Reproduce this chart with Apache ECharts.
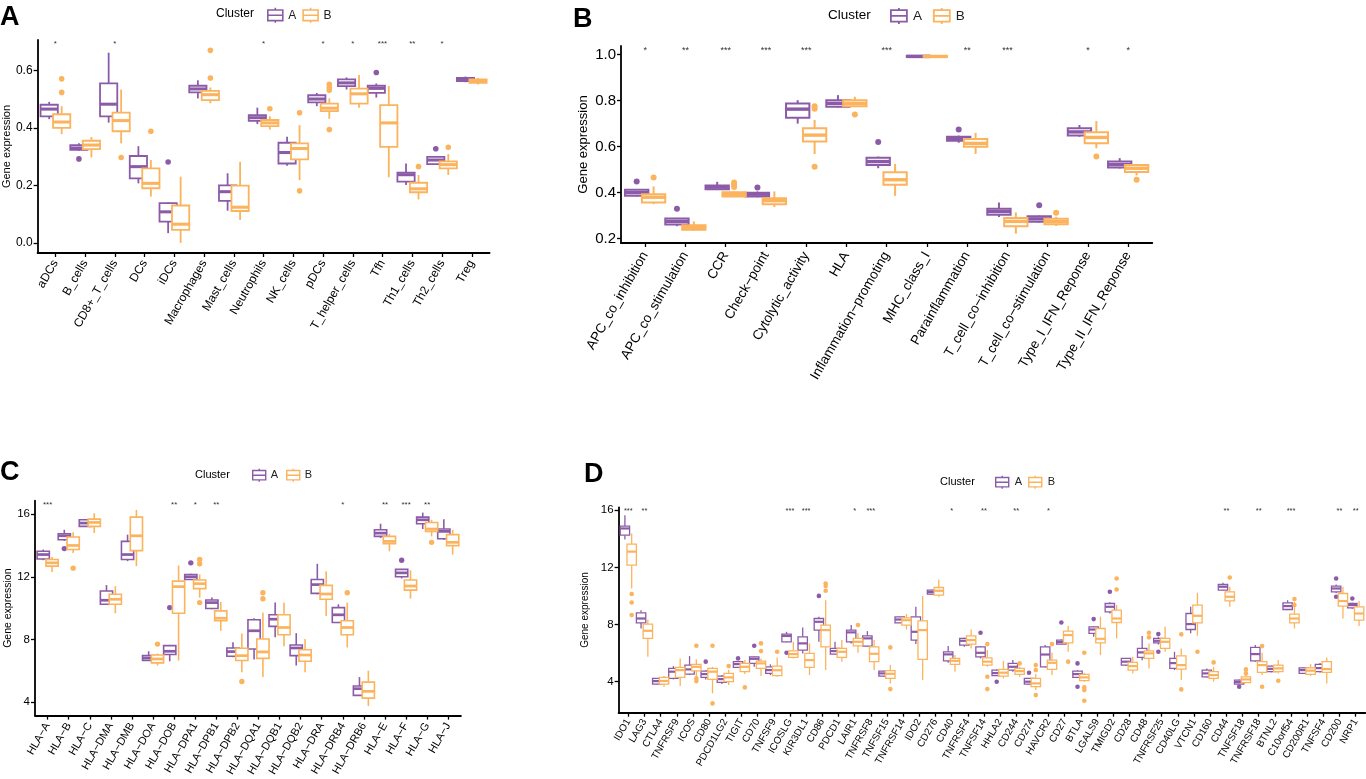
<!DOCTYPE html>
<html>
<head>
<meta charset="utf-8">
<script src="https://cdn.jsdelivr.net/npm/echarts@6/dist/echarts.min.js"></script>
<style>
  html, body { margin: 0; background: #fff; }
  #chart { width: 1366px; height: 779px; }
</style>
</head>
<body>
<div id="chart"></div>
<script>
// ---- panel A: immune cell types ----
const cellTypes = ['aDCs', 'B_cells', 'CD8+_T_cells', 'DCs', 'iDCs', 'Macrophages', 'Mast_cells', 'Neutrophils',
  'NK_cells', 'pDCs', 'T_helper_cells', 'Tfh', 'Th1_cells', 'Th2_cells', 'Treg'];
const cellSig = ['*', '', '*', '', '', '', '', '*', '', '*', '*', '***', '**', '*', ''];
// [min, q1, median, q3, max]
const cellBoxA = [[0.43, 0.44, 0.465, 0.48, 0.49], [0.32, 0.323, 0.33, 0.34, 0.346], [0.418, 0.44, 0.482, 0.554, 0.661],
  [0.207, 0.224, 0.265, 0.302, 0.336], [0.034, 0.074, 0.108, 0.138, 0.141], [0.502, 0.523, 0.535, 0.546, 0.565],
  [0.112, 0.146, 0.178, 0.2, 0.242], [0.413, 0.424, 0.435, 0.444, 0.47], [0.268, 0.276, 0.314, 0.348, 0.369],
  [0.475, 0.488, 0.5, 0.513, 0.521], [0.533, 0.545, 0.556, 0.568, 0.575], [0.505, 0.521, 0.537, 0.546, 0.554],
  [0.201, 0.213, 0.237, 0.244, 0.276], [0.272, 0.274, 0.288, 0.299, 0.302], [0.558, 0.562, 0.568, 0.573, 0.578]];
const cellBoxB = [[0.378, 0.4, 0.42, 0.447, 0.475], [0.297, 0.326, 0.34, 0.355, 0.368], [0.346, 0.388, 0.425, 0.453, 0.533],
  [0.161, 0.19, 0.207, 0.259, 0.288], [0.0, 0.045, 0.065, 0.13, 0.23], [0.485, 0.496, 0.515, 0.528, 0.54],
  [0.08, 0.111, 0.124, 0.199, 0.282], [0.394, 0.406, 0.417, 0.427, 0.44], [0.218, 0.29, 0.328, 0.346, 0.409],
  [0.431, 0.458, 0.468, 0.484, 0.502], [0.47, 0.484, 0.518, 0.536, 0.583], [0.228, 0.334, 0.417, 0.479, 0.545],
  [0.151, 0.176, 0.188, 0.209, 0.236], [0.236, 0.259, 0.272, 0.283, 0.309], [0.55, 0.556, 0.563, 0.568, 0.573]];
const cellOutA = [[], [0.292], [], [], [0.281], [], [], [], [], [], [], [0.592], [], [0.327], []];
const cellOutB = [[0.57, 0.523], [], [0.297], [0.388], [], [0.669, 0.573], [], [0.466], [0.452, 0.181],
  [0.551, 0.54, 0.53, 0.394], [], [], [0.265], [0.332], []];

// ---- panel B: immune functions ----
const funcNames = ['APC_co_inhibition', 'APC_co_stimulation', 'CCR', 'Check\u2212point', 'Cytolytic_activity', 'HLA',
  'Inflammation\u2212promoting', 'MHC_class_I', 'Parainflammation', 'T_cell_co\u2212inhibition', 'T_cell_co\u2212stimulation',
  'Type_I_IFN_Reponse', 'Type_II_IFN_Reponse'];
const funcSig = ['*', '**', '***', '***', '***', '', '***', '', '**', '***', '', '*', '*'];
const funcBoxA = [[0.383, 0.386, 0.4, 0.412, 0.415], [0.254, 0.261, 0.275, 0.287, 0.29], [0.413, 0.415, 0.424, 0.431, 0.447],
  [0.38, 0.383, 0.393, 0.4, 0.405], [0.7, 0.726, 0.763, 0.788, 0.802], [0.77, 0.773, 0.788, 0.802, 0.824],
  [0.506, 0.52, 0.535, 0.552, 0.557], [0.988, 0.99, 0.992, 0.995, 0.996], [0.617, 0.626, 0.636, 0.643, 0.648],
  [0.294, 0.304, 0.318, 0.33, 0.357], [0.27, 0.273, 0.286, 0.297, 0.3], [0.643, 0.648, 0.664, 0.68, 0.694],
  [0.505, 0.509, 0.522, 0.535, 0.55]];
const funcBoxB = [[0.35, 0.357, 0.38, 0.393, 0.427], [0.235, 0.239, 0.248, 0.258, 0.275], [0.38, 0.383, 0.393, 0.402, 0.405],
  [0.337, 0.35, 0.365, 0.376, 0.405], [0.568, 0.622, 0.65, 0.68, 0.716], [0.773, 0.776, 0.788, 0.802, 0.817],
  [0.386, 0.434, 0.456, 0.489, 0.525], [0.988, 0.99, 0.992, 0.994, 0.996], [0.568, 0.6, 0.614, 0.633, 0.66],
  [0.222, 0.254, 0.275, 0.29, 0.314], [0.255, 0.262, 0.274, 0.286, 0.295], [0.593, 0.615, 0.64, 0.662, 0.711],
  [0.475, 0.49, 0.506, 0.52, 0.525]];
const funcOutA = [[0.448], [0.33], [], [0.422], [], [], [0.62], [], [0.675], [], [0.345], [], []];
const funcOutB = [[0.466], [], [0.444, 0.435, 0.425], [], [0.776, 0.765, 0.513], [0.74], [], [], [], [], [0.312], [0.557], [0.456]];

// ---- panel C: HLA genes ----
const hlaGenes = ['HLA\u2212A', 'HLA\u2212B', 'HLA\u2212C', 'HLA\u2212DMA', 'HLA\u2212DMB', 'HLA\u2212DOA', 'HLA\u2212DOB',
  'HLA\u2212DPA1', 'HLA\u2212DPB1', 'HLA\u2212DPB2', 'HLA\u2212DQA1', 'HLA\u2212DQB1', 'HLA\u2212DQB2', 'HLA\u2212DRA',
  'HLA\u2212DRB4', 'HLA\u2212DRB6', 'HLA\u2212E', 'HLA\u2212F', 'HLA\u2212G', 'HLA\u2212J'];
const hlaSig = ['***', '', '', '', '', '', '**', '*', '**', '', '', '', '', '', '*', '', '**', '***', '**', ''];
const hlaBoxA = [[13.06, 13.14, 13.42, 13.63, 13.74], [14.3, 14.37, 14.62, 14.75, 15.0], [15.2, 15.22, 15.43, 15.64, 15.65],
  [10.2, 10.24, 10.5, 11.09, 11.47], [13.0, 13.1, 13.42, 14.26, 14.69], [6.62, 6.65, 6.8, 6.96, 7.24],
  [6.6, 7.03, 7.24, 7.6, 7.65], [11.8, 11.83, 12.0, 12.15, 12.2], [9.93, 9.97, 10.35, 10.52, 10.67],
  [6.86, 6.92, 7.22, 7.45, 7.81], [6.71, 7.39, 8.55, 9.25, 9.35], [8.13, 8.83, 9.29, 9.57, 10.35],
  [6.33, 6.96, 7.45, 7.64, 8.4], [10.88, 10.94, 11.5, 11.83, 12.83], [9.04, 9.08, 9.57, 10.03, 10.24],
  [4.4, 4.42, 4.85, 5.02, 5.59], [14.48, 14.58, 14.79, 15.0, 15.39], [11.89, 12.0, 12.25, 12.47, 12.5],
  [15.05, 15.39, 15.64, 15.81, 16.1], [14.37, 14.43, 14.9, 15.05, 15.68]];
const hlaBoxB = [[12.3, 12.68, 12.89, 13.1, 13.27], [13.52, 13.74, 14.0, 14.54, 14.84], [14.8, 15.22, 15.47, 15.68, 16.06],
  [9.67, 10.24, 10.56, 10.88, 11.4], [12.68, 13.67, 14.62, 15.81, 16.27], [6.33, 6.5, 6.75, 7.0, 7.1],
  [6.65, 9.67, 11.37, 11.72, 12.72], [10.67, 11.24, 11.56, 11.79, 12.15], [8.55, 9.19, 9.35, 9.82, 10.39],
  [5.9, 6.65, 6.96, 7.43, 8.38], [5.59, 6.79, 7.2, 8.02, 9.71], [7.56, 8.3, 8.76, 9.57, 10.35],
  [5.9, 6.6, 7.0, 7.34, 8.02], [9.5, 10.56, 10.9, 11.45, 12.36], [7.49, 8.3, 8.76, 9.19, 10.35],
  [3.75, 4.25, 4.68, 5.27, 6.0], [13.63, 14.12, 14.26, 14.58, 14.75], [10.6, 11.15, 11.41, 11.79, 12.42],
  [14.58, 14.9, 15.05, 15.47, 15.64], [13.42, 13.99, 14.2, 14.69, 15.0]];
const hlaOutA = [[], [13.8], [], [], [], [], [10.03], [12.89], [], [], [], [], [], [], [], [], [], [13.06], [], []];
const hlaOutB = [[], [12.55], [], [], [], [7.7], [], [13.1, 12.83, 10.35], [], [5.31], [10.98, 10.6], [], [], [], [10.98],
  [], [], [], [14.2], []];

// ---- panel D: immune checkpoint genes ----
const checkGenes = ['IDO1', 'LAG3', 'CTLA4', 'TNFRSF9', 'ICOS', 'CD80', 'PDCD1LG2', 'TIGIT', 'CD70', 'TNFSF9', 'ICOSLG',
  'KIR3DL1', 'CD86', 'PDCD1', 'LAIR1', 'TNFRSF8', 'TNFSF15', 'TNFRSF14', 'IDO2', 'CD276', 'CD40', 'TNFRSF4', 'TNFSF14',
  'HHLA2', 'CD244', 'CD274', 'HAVCR2', 'CD27', 'BTLA', 'LGALS9', 'TMIGD2', 'CD28', 'CD48', 'TNFRSF25', 'CD40LG', 'VTCN1',
  'CD160', 'CD44', 'TNFSF18', 'TNFRSF18', 'BTNL2', 'C10orf54', 'CD200R1', 'TNFSF4', 'CD200', 'NRP1'];
const checkSig = ['***', '**', '', '', '', '', '', '', '', '', '***', '***', '', '', '*', '***', '', '', '', '', '*', '',
  '**', '', '**', '', '*', '', '', '', '', '', '', '', '', '', '', '**', '', '**', '', '***', '', '', '**', '**'];
const checkBoxA = [[13.95, 14.25, 14.72, 14.88, 15.65], [7.72, 8.12, 8.42, 8.82, 9.0], [3.8, 3.83, 4.04, 4.23, 4.25],
  [4.16, 4.23, 4.7, 4.93, 5.09], [4.46, 4.53, 4.86, 5.16, 5.79], [4.16, 4.3, 4.53, 4.74, 4.8],
  [3.83, 3.95, 4.18, 4.39, 4.46], [4.95, 5.0, 5.23, 5.4, 5.45], [5.04, 5.28, 5.6, 5.74, 5.8],
  [4.46, 4.58, 4.81, 5.04, 5.21], [6.75, 6.79, 7.2, 7.33, 7.49], [5.98, 6.21, 6.68, 7.14, 7.79],
  [6.79, 7.61, 8.19, 8.42, 8.54], [5.9, 5.93, 6.14, 6.33, 6.79], [6.68, 6.79, 7.45, 7.61, 7.96],
  [6.44, 6.49, 7.03, 7.21, 7.54], [4.35, 4.39, 4.58, 4.74, 4.76], [8.1, 8.12, 8.35, 8.54, 8.56],
  [6.63, 6.91, 7.49, 8.54, 9.24], [10.1, 10.13, 10.27, 10.41, 10.43], [5.32, 5.46, 5.91, 6.09, 6.49],
  [6.44, 6.56, 6.86, 7.03, 7.08], [5.63, 5.74, 6.02, 6.44, 6.5], [4.4, 4.42, 4.6, 4.81, 4.85],
  [4.7, 4.81, 5.04, 5.28, 5.51], [3.8, 3.83, 4.0, 4.23, 4.25], [5.0, 5.04, 5.9, 6.44, 6.56],
  [6.6, 6.63, 6.77, 6.91, 6.95], [4.25, 4.3, 4.53, 4.74, 4.8], [7.14, 7.38, 7.65, 7.84, 7.9],
  [8.77, 8.89, 9.24, 9.47, 9.55], [5.1, 5.16, 5.4, 5.63, 5.65], [5.5, 5.7, 6.05, 6.33, 7.19],
  [6.6, 6.72, 6.86, 7.03, 7.1], [4.81, 4.93, 5.3, 5.63, 6.09], [7.38, 7.65, 8.03, 8.77, 9.24],
  [4.3, 4.34, 4.58, 4.81, 4.93], [10.38, 10.41, 10.64, 10.8, 10.92], [3.8, 3.83, 3.97, 4.11, 4.15],
  [5.4, 5.46, 5.93, 6.4, 6.56], [4.65, 4.7, 4.9, 5.09, 5.12], [9.0, 9.05, 9.29, 9.52, 9.7],
  [4.55, 4.58, 4.81, 4.97, 5.0], [4.65, 4.7, 4.95, 5.21, 5.3], [10.2, 10.29, 10.52, 10.69, 10.8],
  [9.1, 9.17, 9.36, 9.47, 9.52]];
const checkBoxB = [[10.52, 12.15, 13.1, 13.62, 14.37], [5.74, 7.03, 7.56, 8.03, 8.35], [3.65, 3.83, 4.05, 4.3, 4.39],
  [3.69, 4.3, 4.81, 5.0, 5.63], [4.34, 4.76, 5.04, 5.21, 5.56], [3.18, 4.16, 4.7, 4.93, 5.04],
  [3.76, 4.0, 4.3, 4.58, 4.81], [4.53, 4.7, 5.04, 5.28, 5.51], [4.39, 4.93, 5.28, 5.44, 5.63],
  [4.34, 4.42, 4.8, 5.09, 5.7], [5.63, 5.7, 5.93, 6.16, 6.79], [4.46, 5.0, 5.51, 5.98, 6.68],
  [4.81, 6.44, 7.61, 7.96, 9.7], [5.4, 5.7, 6.09, 6.33, 6.91], [6.02, 6.51, 6.79, 7.03, 7.38],
  [4.81, 5.4, 5.95, 6.44, 6.91], [3.88, 4.23, 4.55, 4.77, 5.16], [7.65, 7.96, 8.3, 8.47, 8.73],
  [4.11, 5.56, 7.61, 8.26, 9.99], [9.94, 10.06, 10.36, 10.59, 11.15], [4.7, 5.21, 5.46, 5.63, 5.86],
  [6.33, 6.63, 6.91, 7.21, 7.65], [5.04, 5.16, 5.4, 5.67, 6.21], [4.23, 4.39, 4.63, 4.86, 5.46],
  [4.34, 4.51, 4.74, 4.93, 5.04], [3.41, 3.65, 3.88, 4.23, 4.53], [4.46, 4.86, 5.32, 5.51, 6.02],
  [6.09, 6.72, 7.26, 7.54, 7.89], [4.0, 4.07, 4.3, 4.51, 4.63], [5.86, 6.72, 7.0, 7.72, 8.54],
  [7.03, 8.14, 8.42, 9.0, 9.36], [4.58, 4.81, 5.09, 5.35, 5.74], [4.93, 5.63, 5.98, 6.16, 6.68],
  [6.09, 6.33, 6.79, 7.03, 7.84], [4.11, 4.88, 5.16, 5.81, 6.33], [7.21, 8.12, 8.61, 9.36, 10.22],
  [4.0, 4.23, 4.46, 4.7, 5.04], [9.24, 9.66, 9.94, 10.29, 10.64], [3.9, 3.93, 4.16, 4.34, 4.7],
  [4.46, 4.65, 5.16, 5.4, 6.02], [4.58, 4.7, 4.93, 5.16, 5.51], [7.72, 8.12, 8.42, 8.73, 9.59],
  [4.4, 4.51, 4.77, 4.97, 5.23], [3.88, 4.65, 4.88, 5.4, 5.7], [8.42, 9.29, 9.64, 10.17, 10.64],
  [7.89, 8.31, 8.77, 9.24, 9.64]];
const checkOutA = [[], [], [], [], [], [5.4], [], [5.63], [6.51], [], [6.02], [], [10.0], [], [], [], [], [], [], [], [],
  [], [7.42], [4.0], [], [4.63], [], [8.14], [5.28, 3.65], [8.38], [10.29], [], [], [7.33, 6.09], [], [], [], [], [3.65],
  [], [], [], [], [], [11.22, 9.94], [9.82]];
const checkOutB = [[10.13, 9.54, 8.66], [], [], [], [6.51, 4.23, 4.04], [6.51, 2.48], [5.09], [3.6], [6.68, 6.14], [6.09],
  [], [], [10.87, 10.69, 10.36], [], [7.96], [], [6.4, 3.48], [], [], [], [], [], [6.63, 4.34, 3.48], [], [5.28],
  [5.16, 4.81, 3.06], [6.63], [5.4], [6.02, 3.6, 3.41, 2.67], [], [11.22, 10.45], [], [7.42, 7.1], [], [7.31, 3.46],
  [6.09], [5.35], [11.29], [4.86, 4.58], [6.49, 3.65], [4.07], [9.78, 9.36], [], [], [], []];

const PURPLE = '#8C5BA8';
const ORANGE = '#FCB35D';
const FONT = '"Liberation Sans", Arial, sans-serif';
const BOX_W = 0.58;   // box width as share of a category band
const SHIFT = 0.21;   // dodge of each cluster from the category centre

const panels = [
  { names: cellTypes, sig: cellSig, boxA: cellBoxA, boxB: cellBoxB, outA: cellOutA, outB: cellOutB,
    grid: { left: 37, top: 40, width: 452.6, height: 213 }, yMin: -0.035, yMax: 0.705, yTicks: [0, 0.2, 0.4, 0.6], digits: 1,
    tickFont: 12, labFont: 12, titleFont: 11, nameGap: 25, starFont: 8, lw: 1.8, r: 2.8, labMargin: 8 },
  { names: funcNames, sig: funcSig, boxA: funcBoxA, boxB: funcBoxB, outA: funcOutA, outB: funcOutB,
    grid: { left: 621, top: 46, width: 531.3, height: 197 }, yMin: 0.181, yMax: 1.0375, yTicks: [0.2, 0.4, 0.6, 0.8, 1.0], digits: 1,
    tickFont: 15, labFont: 13.5, titleFont: 13, nameGap: 31, starFont: 9, lw: 2, r: 3, labMargin: 10 },
  { names: hlaGenes, sig: hlaSig, boxA: hlaBoxA, boxB: hlaBoxB, outA: hlaOutA, outB: hlaOutB,
    grid: { left: 35, top: 500.7, width: 425.9, height: 216.3 }, yMin: 3.13, yMax: 16.86, yTicks: [4, 8, 12, 16], digits: 0,
    tickFont: 11.5, labFont: 11, titleFont: 10.5, nameGap: 21, starFont: 8, lw: 1.6, r: 2.7, labMargin: 8 },
  { names: checkGenes, sig: checkSig, boxA: checkBoxA, boxB: checkBoxB, outA: checkOutA, outB: checkOutB,
    grid: { left: 618.6, top: 507.3, width: 746.8, height: 205.4 }, yMin: 1.83, yMax: 16.2, yTicks: [4, 8, 12, 16], digits: 0,
    tickFont: 11.5, labFont: 10, titleFont: 10, nameGap: 20, starFont: 7.5, lw: 1.3, r: 2.3, labMargin: 7 }
];

function boxRenderer(shift, color, lw) {
  return function (params, api) {
    const i = api.value(0);
    const band = api.size([1, 0])[0];
    const cx = api.coord([i, 0])[0] + shift * band;
    const half = band * BOX_W / 2;
    const y = [1, 2, 3, 4, 5].map(d => api.coord([i, api.value(d)])[1]);
    const seg = (x1, y1, x2, y2, w) => ({ type: 'line', shape: { x1, y1, x2, y2 }, style: { stroke: color, lineWidth: w } });
    return {
      type: 'group',
      children: [
        seg(cx, y[4], cx, y[3], lw),
        seg(cx, y[1], cx, y[0], lw),
        { type: 'rect', shape: { x: cx - half, y: y[3], width: 2 * half, height: y[1] - y[3] },
          style: { fill: '#fff', stroke: color, lineWidth: lw } },
        seg(cx - half, y[2], cx + half, y[2], lw * 1.7)
      ]
    };
  };
}

function dotRenderer(shift, color, r) {
  return function (params, api) {
    const i = api.value(0);
    const band = api.size([1, 0])[0];
    const p = api.coord([i, api.value(1)]);
    return { type: 'circle', shape: { cx: p[0] + shift * band, cy: p[1], r }, style: { fill: color } };
  };
}

const grids = [], xAxes = [], yAxes = [], series = [];
panels.forEach((p, k) => {
  const n = p.names.length;
  const idx = p.names.map((_, i) => i + 1);
  grids.push(p.grid);
  xAxes.push({
    gridIndex: k, type: 'value', min: 0.4, max: n + 0.6, position: 'bottom',
    splitLine: { show: false },
    axisLine: { show: true, onZero: false, lineStyle: { color: '#000', width: 1.8 } },
    axisTick: { show: true, customValues: idx, length: 4, lineStyle: { color: '#000', width: 1.3 } },
    axisLabel: { show: true, customValues: idx, rotate: 60, margin: p.labMargin, fontSize: p.labFont, color: '#000',
      formatter: v => p.names[Math.round(v) - 1] || '' }
  });
  xAxes.push({
    gridIndex: k, type: 'value', min: 0.4, max: n + 0.6, position: 'top',
    splitLine: { show: false }, axisLine: { show: false }, axisTick: { show: false },
    axisLabel: { show: true, inside: true, customValues: idx, margin: 0, fontSize: p.starFont, color: '#333',
      formatter: v => p.sig[Math.round(v) - 1] || '' }
  });
  yAxes.push({
    gridIndex: k, type: 'value', min: p.yMin, max: p.yMax,
    splitLine: { show: false },
    axisLine: { show: true, onZero: false, lineStyle: { color: '#000', width: 1.8 } },
    axisTick: { show: true, customValues: p.yTicks, length: 4, lineStyle: { color: '#000', width: 1.3 } },
    axisLabel: { customValues: p.yTicks, margin: 5, fontSize: p.tickFont, color: '#000',
      formatter: v => Number(v).toFixed(p.digits) },
    name: 'Gene expression', nameLocation: 'middle', nameGap: p.nameGap,
    nameTextStyle: { fontSize: p.titleFont, color: '#000' }
  });
  const clusters = [
    { name: 'A', box: p.boxA, out: p.outA, color: PURPLE, shift: -SHIFT },
    { name: 'B', box: p.boxB, out: p.outB, color: ORANGE, shift: SHIFT }
  ];
  clusters.forEach(c => {
    series.push({
      type: 'custom', name: c.name, xAxisIndex: 2 * k, yAxisIndex: k,
      itemStyle: { color: c.color, borderColor: c.color },
      renderItem: boxRenderer(c.shift, c.color, p.lw),
      encode: { x: 0, y: [1, 2, 3, 4, 5] },
      data: c.box.map((b, i) => [i + 1].concat(b))
    });
    series.push({
      type: 'custom', name: c.name + ' outlier', xAxisIndex: 2 * k, yAxisIndex: k,
      renderItem: dotRenderer(c.shift, c.color, p.r),
      encode: { x: 0, y: 1 },
      data: c.out.flatMap((vals, i) => vals.map(v => [i + 1, v]))
    });
  });
});

const BOX_ICON = 'path://M8,0 L8,2 M1,2 L15,2 L15,12 L1,12 Z M1,7 L15,7 M8,12 L8,14';
function legendAt(left, top, w, h, size, gap, lw) {
  return {
    left, top, padding: 0, itemWidth: w, itemHeight: h, itemGap: gap, icon: BOX_ICON, selectedMode: false,
    textStyle: { fontSize: size, color: '#222', padding: [0, 0, 0, 0] },
    data: [
      { name: 'A', itemStyle: { color: '#fff', borderColor: PURPLE, borderWidth: lw } },
      { name: 'B', itemStyle: { color: '#fff', borderColor: ORANGE, borderWidth: lw } }
    ]
  };
}
function label(text, left, top, size, bold) {
  return { text, left, top, padding: 0,
    textStyle: { fontSize: size, fontWeight: bold ? 'bold' : 'normal', color: '#000' } };
}

const chart = echarts.init(document.getElementById('chart'));
chart.setOption({
  animation: false,
  backgroundColor: '#fff',
  textStyle: { fontFamily: FONT },
  title: [
    label('A', 0, 4, 27, true), label('B', 573, 6, 27, true),
    label('C', 0, 459, 27, true), label('D', 584, 461, 27, true),
    label('Cluster', 216, 8, 12), label('Cluster', 828, 8, 13.5),
    label('Cluster', 195, 469, 11), label('Cluster', 940, 476, 11)
  ],
  legend: [
    legendAt(267, 7, 16, 15, 12, 6, 1.6),
    legendAt(890, 7, 18, 16, 13.5, 11, 1.8),
    legendAt(252, 468, 13, 13, 11, 8, 1.4),
    legendAt(995, 475, 15, 13, 11, 6, 1.4)
  ],
  grid: grids,
  xAxis: xAxes,
  yAxis: yAxes,
  series: series
});
</script>
</body>
</html>
